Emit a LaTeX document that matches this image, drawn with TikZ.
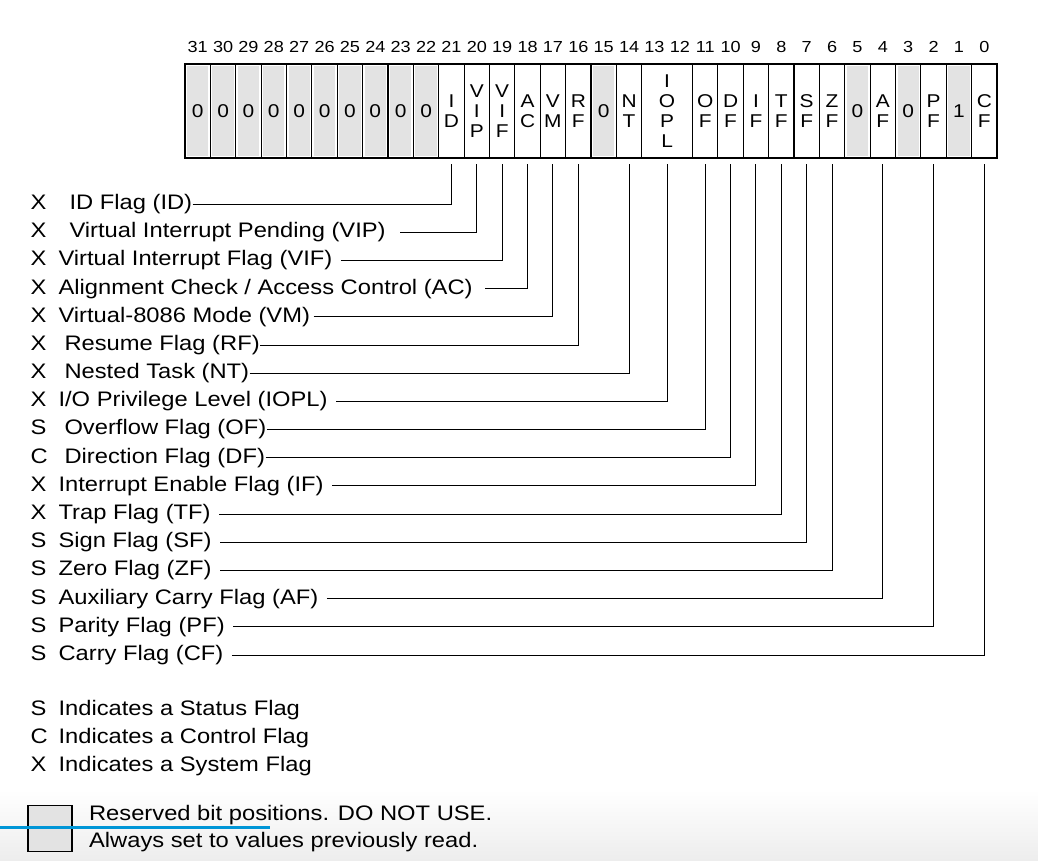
\documentclass[tikz,border=0pt]{standalone}
\usepackage{fontspec}
\setmainfont{Liberation Sans}[FakeStretch=1.13]
\usetikzlibrary{positioning}

\definecolor{seekblue}{RGB}{0,150,215}
\newcommand{\flagkind}[1]{\makebox[28pt][l]{#1}}

\begin{document}
\begin{tikzpicture}[x=1pt, y=-1pt, line width=1.1pt,
    reg cell/.style={draw, minimum width=25.375pt, minimum height=94pt, inner sep=0pt,
        align=center, font=\fontsize{18.5}{20}\selectfont},
    resv cell/.style={reg cell, path picture={
        \fill[gray!22] ([xshift=2pt,yshift=-2pt]path picture bounding box.north west)
            rectangle ([xshift=-2pt,yshift=2pt]path picture bounding box.south east);}},
    bit num/.style={inner sep=0pt, label distance=10pt, font=\fontsize{16}{18}\selectfont},
    flag lbl/.style={anchor=west, inner sep=0pt, font=\fontsize{21}{24}\selectfont},
    conn/.style={line width=1pt, shorten <=8pt, shorten >=5pt}]
    \useasboundingbox (0,0) rectangle (1038,860);
    \shade[top color=white, bottom color=gray!14] (0,790) rectangle (1038,860);

    % reserved upper bits
    \node[resv cell, label={[bit num]above:31}] (b31) at (197.7,111) {0};
    \node[resv cell, label={[bit num]above:30}] (b30) at (223.1,111) {0};
    \node[resv cell, label={[bit num]above:29}] (b29) at (248.4,111) {0};
    \node[resv cell, label={[bit num]above:28}] (b28) at (273.8,111) {0};
    \node[resv cell, label={[bit num]above:27}] (b27) at (299.2,111) {0};
    \node[resv cell, label={[bit num]above:26}] (b26) at (324.6,111) {0};
    \node[resv cell, label={[bit num]above:25}] (b25) at (349.9,111) {0};
    \node[resv cell, label={[bit num]above:24}] (b24) at (375.3,111) {0};
    \node[resv cell, label={[bit num]above:23}] (b23) at (400.7,111) {0};
    \node[resv cell, label={[bit num]above:22}] (b22) at (426.1,111) {0};

    % flag bits
    \node[reg cell, label={[bit num]above:21}] (id) at (451.4,111) {I\\D};
    \node[reg cell, label={[bit num]above:20}] (vip) at (476.8,111) {V\\I\\P};
    \node[reg cell, label={[bit num]above:19}] (vif) at (502.2,111) {V\\I\\F};
    \node[reg cell, label={[bit num]above:18}] (ac) at (527.6,111) {A\\C};
    \node[reg cell, label={[bit num]above:17}] (vm) at (552.9,111) {V\\M};
    \node[reg cell, label={[bit num]above:16}] (rf) at (578.3,111) {R\\F};
    \node[resv cell, label={[bit num]above:15}] (b15) at (603.7,111) {0};
    \node[reg cell, label={[bit num]above:14}] (nt) at (629.1,111) {N\\T};
    \node[reg cell, minimum width=50.75pt, label={[bit num, xshift=-12.7pt]above:13},
        label={[bit num, xshift=12.7pt]above:12}] (iopl) at (667.1,111) {I\\O\\P\\L};
    \node[reg cell, label={[bit num]above:11}] (of) at (705.2,111) {O\\F};
    \node[reg cell, label={[bit num]above:10}] (df) at (730.6,111) {D\\F};
    \node[reg cell, label={[bit num]above:9}] (if) at (755.9,111) {I\\F};
    \node[reg cell, label={[bit num]above:8}] (tf) at (781.3,111) {T\\F};
    \node[reg cell, label={[bit num]above:7}] (sf) at (806.7,111) {S\\F};
    \node[reg cell, label={[bit num]above:6}] (zf) at (832.1,111) {Z\\F};
    \node[resv cell, label={[bit num]above:5}] (b5) at (857.4,111) {0};
    \node[reg cell, label={[bit num]above:4}] (af) at (882.8,111) {A\\F};
    \node[resv cell, label={[bit num]above:3}] (b3) at (908.2,111) {0};
    \node[reg cell, label={[bit num]above:2}] (pf) at (933.6,111) {P\\F};
    \node[resv cell, label={[bit num]above:1}] (b1) at (958.9,111) {1};
    \node[reg cell, label={[bit num]above:0}] (cf) at (984.3,111) {C\\F};

    % flag names
    \node[flag lbl] (idl) at (30,204) {\flagkind{X}\hspace{11pt}ID Flag (ID)};
    \node[flag lbl] (vipl) at (30,232.2) {\flagkind{X}\hspace{11pt}Virtual Interrupt Pending (VIP)};
    \node[flag lbl] (vifl) at (30,260.4) {\flagkind{X}Virtual Interrupt Flag (VIF)};
    \node[flag lbl] (acl) at (30,288.6) {\flagkind{X}Alignment Check / Access Control (AC)};
    \node[flag lbl] (vml) at (30,316.8) {\flagkind{X}Virtual-8086 Mode (VM)};
    \node[flag lbl] (rfl) at (30,345) {\flagkind{X}\hspace{6pt}Resume Flag (RF)};
    \node[flag lbl] (ntl) at (30,373.1) {\flagkind{X}\hspace{6pt}Nested Task (NT)};
    \node[flag lbl] (iopll) at (30,401.3) {\flagkind{X}I/O Privilege Level (IOPL)};
    \node[flag lbl] (ofl) at (30,429.5) {\flagkind{S}\hspace{6pt}Overflow Flag (OF)};
    \node[flag lbl] (dfl) at (30,457.7) {\flagkind{C}\hspace{6pt}Direction Flag (DF)};
    \node[flag lbl] (ifl) at (30,485.9) {\flagkind{X}Interrupt Enable Flag (IF)};
    \node[flag lbl] (tfl) at (30,514.1) {\flagkind{X}Trap Flag (TF)};
    \node[flag lbl] (sfl) at (30,542.3) {\flagkind{S}Sign Flag (SF)};
    \node[flag lbl] (zfl) at (30,570.5) {\flagkind{S}Zero Flag (ZF)};
    \node[flag lbl] (afl) at (30,598.7) {\flagkind{S}Auxiliary Carry Flag (AF)};
    \node[flag lbl] (pfl) at (30,626.9) {\flagkind{S}Parity Flag (PF)};
    \node[flag lbl] (cfl) at (30,655) {\flagkind{S}Carry Flag (CF)};

    \draw[conn, shorten <=0pt] (idl.east) -| (id.south);
    \draw[conn, shorten <=14pt] (vipl.east) -| (vip.south);
    \draw[conn] (vifl.east) -| (vif.south);
    \draw[conn, shorten <=12pt] (acl.east) -| (ac.south);
    \draw[conn, shorten <=3pt] (vml.east) -| (vm.south);
    \draw[conn, shorten <=0pt] (rfl.east) -| (rf.south);
    \draw[conn, shorten <=0pt] (ntl.east) -| (nt.south);
    \draw[conn] (iopll.east) -| (iopl.south);
    \draw[conn, shorten <=0pt] (ofl.east) -| (of.south);
    \draw[conn, shorten <=0pt] (dfl.east) -| (df.south);
    \draw[conn] (ifl.east) -| (if.south);
    \draw[conn] (tfl.east) -| (tf.south);
    \draw[conn] (sfl.east) -| (sf.south);
    \draw[conn] (zfl.east) -| (zf.south);
    \draw[conn] (afl.east) -| (af.south);
    \draw[conn] (pfl.east) -| (pf.south);
    \draw[conn] (cfl.east) -| (cf.south);

    % key
    \node[flag lbl] (statuskey) at (30,710) {\flagkind{S}Indicates a Status Flag};
    \node[flag lbl] (controlkey) at (30,738) {\flagkind{C}Indicates a Control Flag};
    \node[flag lbl] (systemkey) at (30,766) {\flagkind{X}Indicates a System Flag};

    \node[draw, fill=gray!22, minimum width=44pt, minimum height=46pt] (resvkey) at (50,828.5) {};
    \node[flag lbl, align=left, font=\fontsize{21}{27}\selectfont, right=16pt of resvkey]
        (resvtext) {Reserved bit positions. DO NOT USE.\\Always set to values previously read.};

    \draw[seekblue, line width=3pt] (0,827) -- (270,827);
\end{tikzpicture}
\end{document}
